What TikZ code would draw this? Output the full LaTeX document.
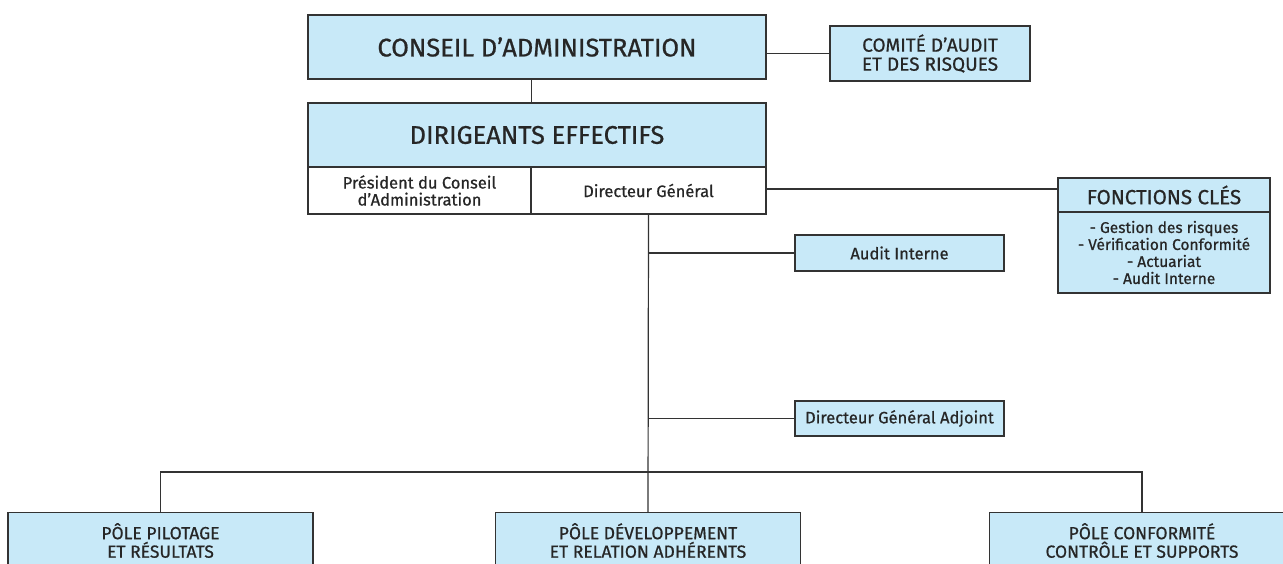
\documentclass[tikz,border=0pt]{standalone}
\usepackage{fontspec}
\setmainfont[FakeBold=0.7]{Fira Sans}
\definecolor{boxblue}{HTML}{C8E9F8}
\definecolor{edge}{HTML}{333333}
\begin{document}
\begin{tikzpicture}[x=1pt,y=-1pt,
  box/.style={draw=edge,line width=1.4pt,fill=boxblue,inner sep=0pt,align=center,text=black!85},
  wbox/.style={box,fill=white},
  conn/.style={draw=black!80,line width=1.2pt},
  big/.style={font=\fontsize{25.5}{28}\selectfont},
  small/.style={font=\fontsize{16.5}{17}\selectfont}]
\useasboundingbox (0,0) rectangle (1283,564);
\begin{scope}
\clip (0,0) rectangle (1283,564);
% top boxes
\node[box,big,minimum width=458,minimum height=64] (ca) at (537,47) {CONSEIL D’ADMINISTRATION};
\node[box,big,minimum width=458,minimum height=64] (de) at (537,135) {DIRIGEANTS EFFECTIFS};
\node[wbox,small,minimum width=223,minimum height=47] (pca) at (419.5,190.5) {Président du Conseil\\d’Administration};
\node[wbox,small,minimum width=235,minimum height=47] (dg) at (648.5,190.5) {Directeur Général};
\node[box,font=\fontsize{19}{19}\selectfont,minimum width=200,minimum height=55] (cac) at (930,53.5) {COMITÉ D’AUDIT\\ET DES RISQUES};
\node[box,font=\fontsize{20.5}{22}\selectfont,minimum width=212,minimum height=34] (fch) at (1164,195) {FONCTIONS CLÉS};
\node[box,font=\fontsize{15.5}{17}\selectfont,minimum width=212,minimum height=81] (fcl) at (1164,252.5) {- Gestion des risques\\- Vérification Conformité\\- Actuariat\\- Audit Interne};
\node[box,small,minimum width=209,minimum height=36] (ai) at (899.5,253) {Audit Interne};
\node[box,small,minimum width=209,minimum height=35] (dga) at (899.5,418.5) {Directeur Général Adjoint};
% bottom boxes
\node[box,minimum width=305,minimum height=100,anchor=north] (pp) at (160.5,512) {};
\node[box,minimum width=305,minimum height=100,anchor=north] (pd) at (648,512) {};
\node[box,minimum width=305,minimum height=100,anchor=north] (pc) at (1142,512) {};
\tikzset{btext/.style={font=\fontsize{17.5}{18.5}\selectfont,align=center,anchor=north,inner sep=0pt,text=black!85}}
\node[btext] (ppt) at ([yshift=-11pt]pp.north) {PÔLE PILOTAGE\\ET RÉSULTATS};
\node[btext] (pdt) at ([yshift=-11pt]pd.north) {PÔLE DÉVELOPPEMENT\\ET RELATION ADHÉRENTS};
\node[btext] (pct) at ([yshift=-11pt]pc.north) {PÔLE CONFORMITÉ\\CONTRÔLE ET SUPPORTS};
\end{scope}
% connectors
\draw[conn] (ca.south -| pca.east) -- (de.north -| pca.east);
\draw[conn] (cac.west) -- (cac.west -| ca.east);
\draw[conn] (dg.east |- 0,189) -- (fch.west |- 0,189);
\draw[conn] (dg.south) -- (pd.north);
\draw[conn] (ai.west) -- (ai.west -| dg.south);
\draw[conn] (dga.west) -- (dga.west -| dg.south);
\draw[conn] (pp.north) -- ++(0,-40) -| (pc.north);
\end{tikzpicture}
\end{document}
